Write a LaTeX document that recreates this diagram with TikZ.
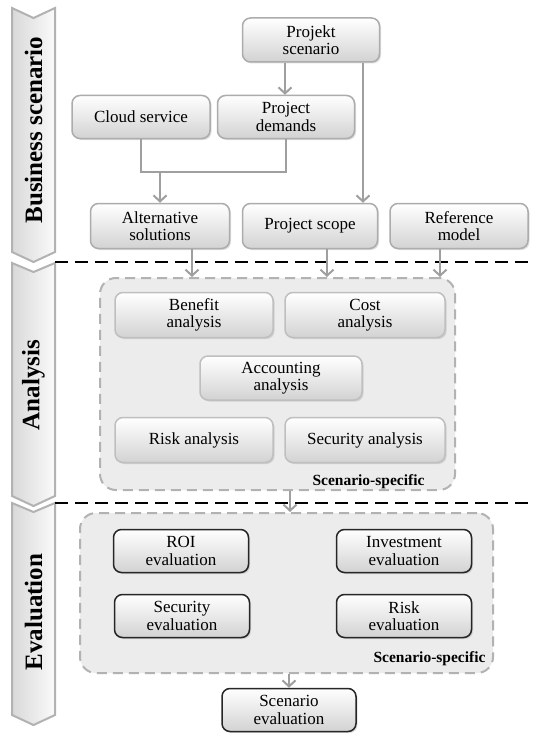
\documentclass[tikz,border=0pt]{standalone}
\usepackage{fontspec}
\setmainfont{Liberation Serif}
\usetikzlibrary{positioning,arrows.meta,shadows}

\tikzset{
  blk/.style={draw=gray!65, line width=1.5pt, rounded corners=8pt,
    top color=white, bottom color=gray!35, align=center,
    font=\fontsize{17}{17.5}\selectfont, inner sep=1pt,
    drop shadow={opacity=0.25, shadow xshift=1.5pt, shadow yshift=-1.5pt}},
  evalblk/.style={blk, draw=black!85},
  grp/.style={draw=gray!60, line width=2pt, dash pattern=on 10pt off 6pt,
    fill=gray!15, rounded corners=16pt},
  phase/.style={draw=gray!60, line width=2pt, left color=gray!30, right color=gray!4},
  phasetxt/.style={rotate=90, font=\bfseries\fontsize{25}{25}\selectfont},
  sep/.style={line width=2.5pt, dash pattern=on 13pt off 7pt},
  spec/.style={anchor=base east, font=\bfseries\fontsize{15.5}{16}\selectfont},
  link/.style={draw=gray!75, line width=2pt},
  flow/.style={link, ->},
}

\begin{document}
\begin{tikzpicture}[x=1pt, y=-1pt, >={Straight Barb[length=6pt, width=13pt]}]
  \useasboundingbox[fill=white] (0,0) rectangle (534,733);

  % phase bars
  \path[phase] (12,8) -- (33.5,18) -- (55,8) -- (55,252) -- (33.5,262) -- (12,252) -- cycle;
  \path[phase] (12,263) -- (33.5,272) -- (55,263) -- (55,496) -- (33.5,506) -- (12,496) -- cycle;
  \path[phase] (12,503) -- (33.5,512) -- (55,503) -- (55,715) -- (33.5,725) -- (12,715) -- cycle;
  \node[phasetxt] (lbiz) at (33.5,130) {Business scenario};
  \node[phasetxt] (lana) at (33.5,385) {Analysis};
  \node[phasetxt] (leva) at (33.5,612) {Evaluation};

  \draw[sep] (55,262) -- (534,262);
  \draw[sep] (55,503) -- (534,503);

  % business scenario
  \node[blk, minimum width=137pt, minimum height=44pt] (proj) at (311,40) {Projekt\\scenario};
  \node[blk, minimum width=138pt, minimum height=43pt] (cloud) at (141,117) {Cloud service};
  \node[blk, minimum width=137pt, minimum height=43pt] (demands) at (286,117) {Project\\demands};
  \node[blk, minimum width=139pt, minimum height=45pt] (alt) at (160,226) {Alternative\\solutions};
  \node[blk, minimum width=135pt, minimum height=45pt] (scope) at (310,226) {Project scope};
  \node[blk, minimum width=138pt, minimum height=45pt] (ref) at (459,226) {Reference\\model};
  \coordinate (merge) at (160,172);

  % analysis
  \node[grp, minimum width=355pt, minimum height=212pt] (ana) at (277.5,384) {};
  \node[blk, draw=gray!50, minimum width=158pt, minimum height=45pt] (benefit) at (194,315) {Benefit\\analysis};
  \node[blk, draw=gray!50, minimum width=160pt, minimum height=45pt] (cost) at (365,315) {Cost\\analysis};
  \node[blk, draw=gray!50, minimum width=162pt, minimum height=44pt] (acc) at (281,378) {Accounting\\analysis};
  \node[blk, draw=gray!50, minimum width=158pt, minimum height=45pt] (risk) at (194,440) {Risk analysis};
  \node[blk, draw=gray!50, minimum width=160pt, minimum height=45pt] (sec) at (365,440) {Security analysis};
  \node[spec] (anaspec) at (428,485) {Scenario-specific};

  % evaluation
  \node[grp, minimum width=413pt, minimum height=160pt] (evl) at (286.5,593) {};
  \node[evalblk, minimum width=135pt, minimum height=43pt] (roi) at (181,551) {ROI\\evaluation};
  \node[evalblk, minimum width=135pt, minimum height=43pt] (inv) at (404,551) {Investment\\evaluation};
  \node[evalblk, minimum width=135pt, minimum height=43pt] (seceval) at (182,616) {Security\\evaluation};
  \node[evalblk, minimum width=135pt, minimum height=43pt] (riskeval) at (404,616) {Risk\\evaluation};
  \node[spec] (evlspec) at (489,662) {Scenario-specific};
  \node[evalblk, minimum width=134pt, minimum height=43pt] (sceneval) at (289,710) {Scenario\\evaluation};

  % connectors
  \draw[flow] ([xshift=-26pt]proj.south) -- ([xshift=-26pt]proj.south |- demands.north);
  \draw[flow] ([xshift=52pt]proj.south) -- ([xshift=52pt]proj.south |- scope.north);
  \draw[link] (cloud.south) |- (merge) -| (demands.south);
  \draw[flow] (merge) -- (alt.north);
  \draw[flow] ([xshift=32pt]alt.south) -- ([xshift=32pt]alt.south |- ana.north);
  \draw[flow] ([xshift=17pt]scope.south) -- ([xshift=17pt]scope.south |- ana.north);
  \draw[flow] ([xshift=-19pt]ref.south) -- ([xshift=-19pt]ref.south |- ana.north);
  \draw[flow] ([xshift=12.5pt]ana.south) -- ([xshift=12.5pt]ana.south |- evl.north);
  \draw[flow] (sceneval.north |- evl.south) -- (sceneval.north);
\end{tikzpicture}
\end{document}
